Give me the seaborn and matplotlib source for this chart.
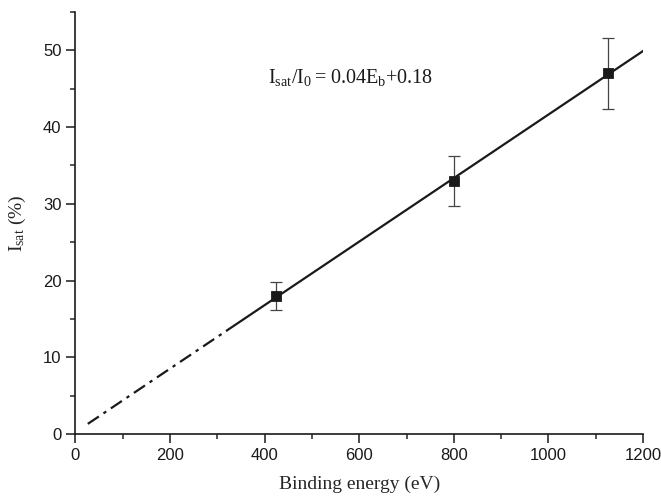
import numpy as np
import pandas as pd
import matplotlib
matplotlib.use("Agg")
import matplotlib.pyplot as plt
from matplotlib.ticker import MultipleLocator
import seaborn as sns

# Measured saturation intensity vs binding energy
binding_energy = [425, 800, 1125]
i_sat = [18.0, 33.0, 47.0]
err_low = [1.85, 3.3, 4.7]
err_high = [1.75, 3.2, 4.6]

# Fit range: extrapolated part (dash-dot) and measured range (solid)
x_extrap = [26, 320]
x_solid = [320, 1205]

sns.set_style("ticks")
plt.rcParams["font.family"] = ["Liberation Sans", "DejaVu Sans"]

fig = plt.figure(figsize=(6.61, 4.96), dpi=100)
ax = fig.add_axes([0.1142, 0.125, 0.8586, 0.8508])

slope, intercept = np.polyfit(binding_energy, i_sat, 1)

def fit_frame(xs):
    xs = np.array(xs, dtype=float)
    return pd.DataFrame({"x": xs, "y": slope * xs + intercept})

sns.lineplot(data=fit_frame(x_extrap), x="x", y="y", ax=ax, color="#1a1a1a",
             lw=1.6, dashes=False, linestyle=(0, (6, 2.5, 1.5, 2.5)))
sns.lineplot(data=fit_frame(x_solid), x="x", y="y", ax=ax, color="#1a1a1a",
             lw=1.6)

ax.errorbar(binding_energy, i_sat, yerr=[err_low, err_high], fmt="none",
            ecolor="#444444", elinewidth=0.9, capsize=4.5, capthick=0.9,
            zorder=3)
pts = pd.DataFrame({"E": binding_energy, "I": i_sat})
sns.scatterplot(data=pts, x="E", y="I", ax=ax, marker="s", s=55,
                color="#1a1a1a", edgecolor="#1a1a1a", zorder=4)

ax.set_xlim(0, 1200)
ax.set_ylim(0, 55)
ax.xaxis.set_major_locator(MultipleLocator(200))
ax.xaxis.set_minor_locator(MultipleLocator(100))
ax.yaxis.set_major_locator(MultipleLocator(10))
ax.yaxis.set_minor_locator(MultipleLocator(5))
ax.tick_params(which="major", length=6.5, width=1.1, labelsize=12,
               colors="#1a1a1a")
ax.tick_params(which="minor", length=3.5, width=1.1)
for s in ["left", "bottom"]:
    ax.spines[s].set_linewidth(1.2)
    ax.spines[s].set_color("#1a1a1a")
sns.despine(ax=ax)

serif = ["Liberation Serif", "DejaVu Serif"]
ax.set_xlabel("Binding energy (eV)", family=serif, fontsize=14, labelpad=9)
ax.set_ylabel(r"$\mathregular{I_{sat}}$ (%)", family=serif, fontsize=14,
              labelpad=11)
ax.text(407, 46.4, r"$\mathregular{I_{sat}/I_0 = 0.04E_b}$+0.18",
        family=serif, fontsize=14.5, va="center", ha="left", color="#1a1a1a")

fig.savefig("out.png", dpi=100)
